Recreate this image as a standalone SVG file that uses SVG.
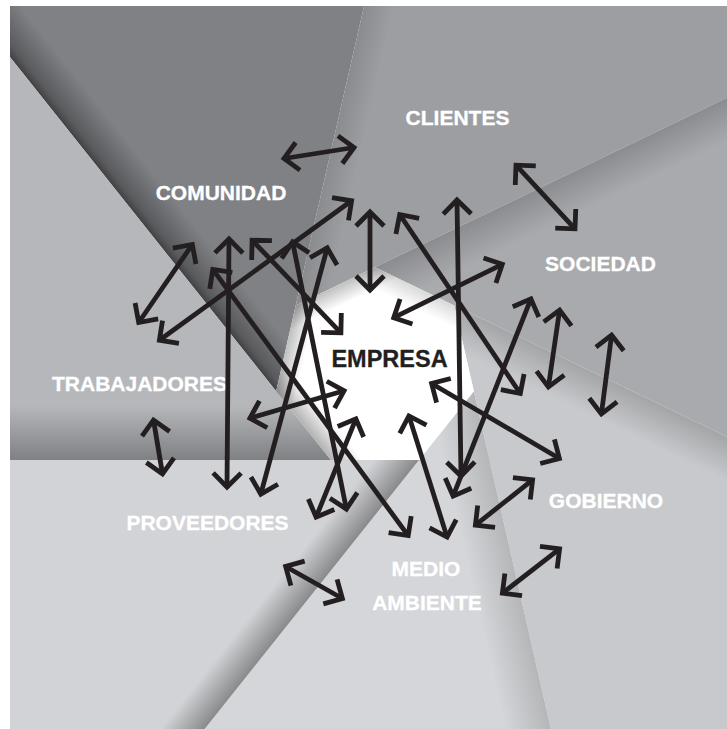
<svg xmlns="http://www.w3.org/2000/svg" width="727" height="729" viewBox="0 0 727 729">
<style>
.lbl{font-family:"Liberation Sans",Arial,Helvetica,sans-serif;font-weight:bold;font-size:21px;fill:#ffffff;stroke:#ffffff;stroke-width:0.3;text-anchor:middle}
.core{fill:#231f20;stroke:#231f20;font-size:23.5px}
.arr{fill:none;stroke:#231f20;stroke-width:4.8;marker-start:url(#ah);marker-end:url(#ah)}
</style>
<defs>
<marker id="ah" viewBox="-20 -20 40 40" refX="0" refY="0" markerWidth="40" markerHeight="40" markerUnits="userSpaceOnUse" orient="auto-start-reverse" overflow="visible">
<path d="M-14,-14 L0,0 L-14,14" fill="none" stroke="#231f20" stroke-width="4.8" stroke-linejoin="miter" stroke-miterlimit="10"/>
</marker>
<linearGradient id="sCom" gradientUnits="userSpaceOnUse" x1="10" y1="57.1" x2="41.3" y2="32.2"><stop offset="0" stop-color="#000" stop-opacity="0.5"/><stop offset="0.2" stop-color="#000" stop-opacity="0.3"/><stop offset="1" stop-color="#000" stop-opacity="0"/></linearGradient>
<linearGradient id="sTrab" gradientUnits="userSpaceOnUse" x1="10" y1="460" x2="10" y2="405"><stop offset="0" stop-color="#000" stop-opacity="0.3"/><stop offset="1" stop-color="#000" stop-opacity="0"/></linearGradient>
<linearGradient id="sProv" gradientUnits="userSpaceOnUse" x1="419" y1="460" x2="391.6" y2="438.2"><stop offset="0" stop-color="#000" stop-opacity="0.35"/><stop offset="1" stop-color="#000" stop-opacity="0"/></linearGradient>
<linearGradient id="sMed" gradientUnits="userSpaceOnUse" x1="473.85" y1="391.16" x2="429.96" y2="401.17"><stop offset="0" stop-color="#000" stop-opacity="0.15"/><stop offset="1" stop-color="#000" stop-opacity="0"/></linearGradient>
<linearGradient id="sGob" gradientUnits="userSpaceOnUse" x1="454.27" y1="305.38" x2="436.9" y2="341.4"><stop offset="0" stop-color="#000" stop-opacity="0.18"/><stop offset="1" stop-color="#000" stop-opacity="0"/></linearGradient>
<linearGradient id="sSoc" gradientUnits="userSpaceOnUse" x1="375" y1="267.2" x2="392.4" y2="303.2"><stop offset="0" stop-color="#000" stop-opacity="0.18"/><stop offset="1" stop-color="#000" stop-opacity="0"/></linearGradient>
<linearGradient id="sCli" gradientUnits="userSpaceOnUse" x1="295.73" y1="305.38" x2="325" y2="312.05"><stop offset="0" stop-color="#000" stop-opacity="0.12"/><stop offset="1" stop-color="#000" stop-opacity="0"/></linearGradient>
<linearGradient id="aAB" gradientUnits="userSpaceOnUse" x1="375" y1="267.2" x2="383.7" y2="285.2"><stop offset="0" stop-color="#000" stop-opacity="0.25"/><stop offset="1" stop-color="#000" stop-opacity="0"/></linearGradient>
<linearGradient id="aGA" gradientUnits="userSpaceOnUse" x1="295.73" y1="305.38" x2="315.2" y2="309.8"><stop offset="0" stop-color="#000" stop-opacity="0.25"/><stop offset="1" stop-color="#000" stop-opacity="0"/></linearGradient>
<linearGradient id="aFG" gradientUnits="userSpaceOnUse" x1="276.15" y1="391.16" x2="295.7" y2="375.6"><stop offset="0" stop-color="#000" stop-opacity="0.3"/><stop offset="1" stop-color="#000" stop-opacity="0"/></linearGradient>
<linearGradient id="aBC" gradientUnits="userSpaceOnUse" x1="454.27" y1="305.38" x2="445.6" y2="323.4"><stop offset="0" stop-color="#000" stop-opacity="0.15"/><stop offset="1" stop-color="#000" stop-opacity="0"/></linearGradient>
<clipPath id="apClip"><polygon points="375,267.2 454.27,305.38 473.85,391.16 419,460 331,460 276.15,391.16 295.73,305.38"/></clipPath>
</defs>

<g id="background">
<rect x="0" y="0" width="727" height="729" fill="#ffffff"/>
<polygon id="blade-comunidad" points="10,6 364.07,6 276.15,391.16 10,57.1" fill="#808185"/>
<polygon points="10,6 364.07,6 276.15,391.16 10,57.1" fill="url(#sCom)"/>
<polygon id="blade-clientes" points="364.07,6 727,6 727,97.7 375,267.2 295.73,305.38" fill="#9d9ea2"/>
<polygon points="364.07,6 727,6 727,97.7 375,267.2 295.73,305.38" fill="url(#sCli)"/>
<polygon id="blade-sociedad" points="727,97.7 727,436.8 454.27,305.38 375,267.2" fill="#a9aaae"/>
<polygon points="727,97.7 727,436.8 454.27,305.38 375,267.2" fill="url(#sSoc)"/>
<polygon id="blade-gobierno" points="727,436.8 727,729 550.9,729 473.85,391.16 454.27,305.38" fill="#c8c9cc"/>
<polygon points="727,436.8 727,729 550.9,729 473.85,391.16 454.27,305.38" fill="url(#sGob)"/>
<polygon id="blade-medio" points="550.9,729 204.6,729 419,460 473.85,391.16" fill="#d5d6d9"/>
<polygon points="550.9,729 204.6,729 419,460 473.85,391.16" fill="url(#sMed)"/>
<polygon id="blade-proveedores" points="204.6,729 10,729 10,460 419,460" fill="#d2d3d6"/>
<polygon points="204.6,729 10,729 10,460 419,460" fill="url(#sProv)"/>
<polygon id="blade-trabajadores" points="10,460 10,57.1 331,460" fill="#b6b7bb"/>
<polygon points="10,460 10,57.1 331,460" fill="url(#sTrab)"/>
<polygon id="aperture" points="375,267.2 454.27,305.38 473.85,391.16 419,460 331,460 276.15,391.16 295.73,305.38" fill="#ffffff"/>
<g clip-path="url(#apClip)">
<rect x="270" y="260" width="210" height="205" fill="url(#aAB)"/>
<rect x="270" y="260" width="210" height="205" fill="url(#aGA)"/>
<rect x="270" y="260" width="210" height="205" fill="url(#aFG)"/>
<rect x="270" y="260" width="210" height="205" fill="url(#aBC)"/>
</g>
</g>

<g id="node-empresa"><text class="lbl core" x="389.5" y="366.5">EMPRESA</text></g>
<g id="node-clientes"><text class="lbl" x="457.5" y="125">CLIENTES</text></g>
<g id="node-comunidad"><text class="lbl" x="221" y="200">COMUNIDAD</text></g>
<g id="node-sociedad"><text class="lbl" x="600.5" y="270.5">SOCIEDAD</text></g>
<g id="node-trabajadores"><text class="lbl" x="139.5" y="391">TRABAJADORES</text></g>
<g id="node-gobierno"><text class="lbl" x="606" y="508">GOBIERNO</text></g>
<g id="node-proveedores"><text class="lbl" x="207.5" y="530">PROVEEDORES</text></g>
<g id="node-medio-ambiente"><text class="lbl" x="426" y="576">MEDIO</text><text class="lbl" x="427" y="610">AMBIENTE</text></g>

<g id="connectors">
<line class="arr" x1="284" y1="158.5" x2="354" y2="147.5"/>
<line class="arr" x1="516" y1="165.2" x2="575" y2="228.8"/>
<line class="arr" x1="192.3" y1="244.5" x2="138.7" y2="322.5"/>
<line class="arr" x1="351.6" y1="200.8" x2="159.4" y2="340.2"/>
<line class="arr" x1="370" y1="212" x2="370" y2="290"/>
<line class="arr" x1="229" y1="239" x2="227" y2="487"/>
<line class="arr" x1="252.1" y1="240.2" x2="340.9" y2="332.8"/>
<line class="arr" x1="292.6" y1="241.9" x2="346.4" y2="509.1"/>
<line class="arr" x1="327.2" y1="247.9" x2="260.8" y2="494.1"/>
<line class="arr" x1="212.8" y1="269.4" x2="408.2" y2="535.6"/>
<line class="arr" x1="399.7" y1="214.5" x2="520.3" y2="393.5"/>
<line class="arr" x1="457" y1="200" x2="461" y2="476"/>
<line class="arr" x1="502.3" y1="264.3" x2="393.7" y2="317.7"/>
<line class="arr" x1="530.9" y1="298.8" x2="453.1" y2="496.2"/>
<line class="arr" x1="559.6" y1="310" x2="548.4" y2="387"/>
<line class="arr" x1="611.6" y1="335" x2="601.4" y2="414"/>
<line class="arr" x1="431.6" y1="383.5" x2="559.4" y2="458.5"/>
<line class="arr" x1="532.6" y1="479.9" x2="475.4" y2="525.1"/>
<line class="arr" x1="559.6" y1="548.8" x2="502.4" y2="593.2"/>
<line class="arr" x1="408.9" y1="415.9" x2="447.1" y2="537.1"/>
<line class="arr" x1="355.9" y1="418.8" x2="316.1" y2="517.2"/>
<line class="arr" x1="344.1" y1="390.8" x2="249.9" y2="418.2"/>
<line class="arr" x1="153.5" y1="420" x2="162.5" y2="474"/>
<line class="arr" x1="285.6" y1="566.5" x2="342.4" y2="598.5"/>
</g>
</svg>
